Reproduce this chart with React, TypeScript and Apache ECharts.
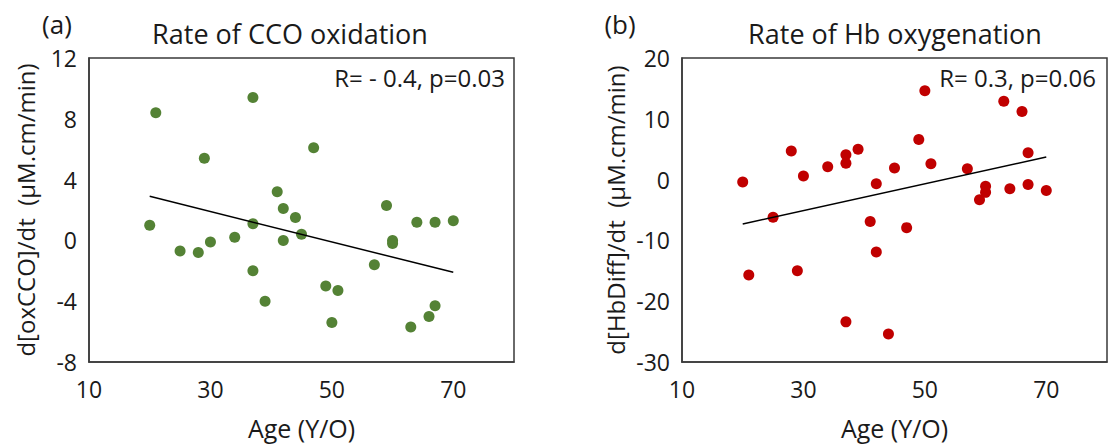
import React, { useEffect, useRef } from 'react';
import * as echarts from 'echarts';

// Shared subject ages (Y/O)
const ages = [20, 21, 25, 28, 29, 30, 34, 37, 37, 37, 39, 41, 42, 42, 44, 45, 47, 49, 50, 51, 57, 59, 60, 60, 63, 64, 66, 67, 67, 70];
// (a) d[oxCCO]/dt values
const oxCCO = [1.0, 8.4, -0.7, -0.8, 5.4, -0.1, 0.2, 9.4, 1.1, -2.0, -4.0, 3.2, 2.1, 0.0, 1.5, 0.4, 6.1, -3.0, -5.4, -3.3, -1.6, 2.3, 0.0, -0.2, -5.7, 1.2, -5.0, 1.2, -4.3, 1.3];
// (b) d[HbDiff]/dt values
const hbDiff = [-0.4, -15.7, -6.2, 4.7, -15.0, 0.6, 2.1, 4.1, 2.7, -23.4, 5.0, -6.9, -0.7, -11.9, -25.4, 1.9, -7.9, 6.6, 14.6, 2.6, 1.8, -3.3, -1.1, -2.1, 12.9, -1.5, 11.2, 4.4, -0.8, -1.8];
// Linear trend lines (endpoints)
const trendAges = [20, 70];
const trendCCO = [2.9, -2.1];
const trendHb = [-7.3, 3.7];

const titles = ['Rate of CCO oxidation', 'Rate of Hb oxygenation'];
const panelLabels = ['(a)', '(b)'];
const stats = ['R= - 0.4, p=0.03', 'R= 0.3, p=0.06'];
const yNames = ['d[oxCCO]/dt  (\u00B5M.cm/min)', 'd[HbDiff]/dt  (\u00B5M.cm/min)'];
const xName = 'Age (Y/O)';

const FONT = 'Open Sans';
const TXT = '#1a1a1a';
const AXIS = '#3a3a3a';

function makeX(gridIndex: number) {
  return {
    gridIndex,
    type: 'value',
    min: 10,
    max: 80,
    interval: 20,
    axisLine: { show: true, onZero: false, lineStyle: { color: AXIS, width: 1.5 } },
    axisTick: { show: false },
    splitLine: { show: false },
    axisLabel: { showMaxLabel: false, color: TXT, fontSize: 23, fontFamily: FONT, margin: 15 },
    name: xName,
    nameLocation: 'middle',
    nameGap: 53,
    nameTextStyle: { color: TXT, fontSize: 25, fontFamily: FONT },
  };
}

function makeY(gridIndex: number, min: number, max: number, interval: number, name: string, gap: number) {
  return {
    gridIndex,
    type: 'value',
    min,
    max,
    interval,
    axisLine: { show: true, onZero: false, lineStyle: { color: AXIS, width: 1.5 } },
    axisTick: { show: false },
    splitLine: { show: false },
    axisLabel: { color: TXT, fontSize: 23, fontFamily: FONT, margin: 12 },
    name,
    nameLocation: 'middle',
    nameGap: gap,
    nameTextStyle: { color: TXT, fontSize: 24, fontFamily: FONT },
  };
}

function text(x: number, y: number, t: string, size: number, align: string) {
  return {
    type: 'text',
    x,
    y,
    style: {
      text: t,
      fill: TXT,
      fontSize: size,
      fontFamily: FONT,
      textAlign: align,
      align,
      textVerticalAlign: 'middle',
      verticalAlign: 'middle',
    },
  };
}

export default function App() {
  const ref = useRef<HTMLDivElement>(null);
  useEffect(() => {
    document.body.style.margin = '0';
    const chart = echarts.init(ref.current!, undefined, { renderer: 'svg' });
    const gridBase = { top: 58, width: 425, height: 307, show: true, borderColor: AXIS, borderWidth: 1.5, backgroundColor: 'transparent' };
    chart.setOption({
      animation: false,
      textStyle: { fontFamily: FONT },
      grid: [
        { ...gridBase, left: 89 },
        { ...gridBase, left: 682 },
      ],
      xAxis: [makeX(0), makeX(1)],
      yAxis: [makeY(0, -8, 12, 4, yNames[0], 52), makeY(1, -30, 20, 10, yNames[1], 55)],
      series: [
        {
          type: 'scatter',
          xAxisIndex: 0,
          yAxisIndex: 0,
          symbolSize: 11,
          itemStyle: { color: '#548235', opacity: 1 },
          data: ages.map((a, i) => [a, oxCCO[i]]),
        },
        {
          type: 'line',
          xAxisIndex: 0,
          yAxisIndex: 0,
          symbol: 'none',
          lineStyle: { color: '#000000', width: 1.5 },
          data: trendAges.map((a, i) => [a, trendCCO[i]]),
        },
        {
          type: 'scatter',
          xAxisIndex: 1,
          yAxisIndex: 1,
          symbolSize: 11,
          itemStyle: { color: '#C00000', opacity: 1 },
          data: ages.map((a, i) => [a, hbDiff[i]]),
        },
        {
          type: 'line',
          xAxisIndex: 1,
          yAxisIndex: 1,
          symbol: 'none',
          lineStyle: { color: '#000000', width: 1.5 },
          data: trendAges.map((a, i) => [a, trendHb[i]]),
        },
      ],
      graphic: [
        text(57, 24, panelLabels[0], 26, 'center'),
        text(290, 33, titles[0], 27, 'center'),
        text(505, 77, stats[0], 24, 'right'),
        text(620, 24, panelLabels[1], 26, 'center'),
        text(895, 33, titles[1], 27, 'center'),
        text(1096, 77, stats[1], 24, 'right'),
      ],
    });
    return () => chart.dispose();
  }, []);
  return <div ref={ref} style={{ width: 1111, height: 445 }} />;
}
